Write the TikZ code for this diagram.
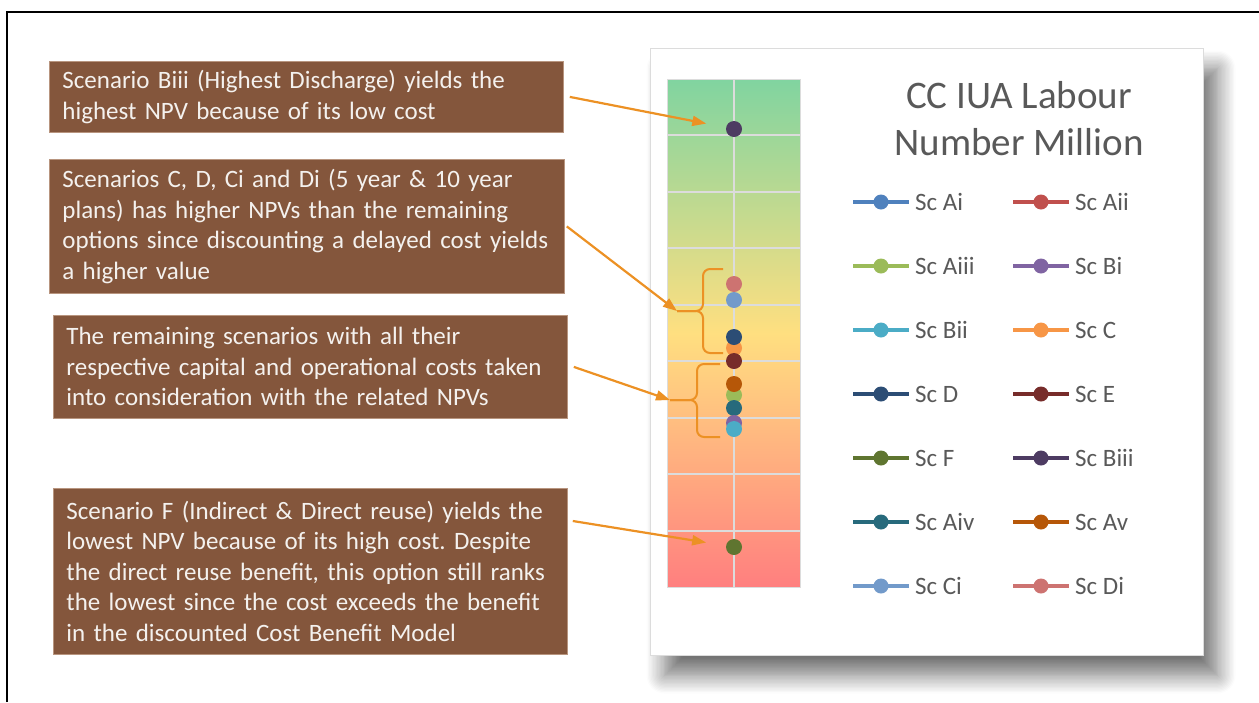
\documentclass[tikz,border=0pt]{standalone}
\usepackage{fontspec}
\setmainfont{Carlito}
\usepackage{tikz}
\usetikzlibrary{arrows.meta,positioning,calc,shadows.blur}
\frenchspacing
\definecolor{notebrown}{HTML}{84563C}
\definecolor{noteedge}{HTML}{B8957F}
\definecolor{notetext}{HTML}{F4F1EE}
\definecolor{callorange}{HTML}{EC9124}
\definecolor{titlegray}{HTML}{595959}
\definecolor{gridgray}{HTML}{DCDCDC}
\definecolor{plotgreen}{HTML}{80D4A0}
\definecolor{plotyellow}{HTML}{FFDF80}
\definecolor{plotred}{HTML}{FF7F7F}
\definecolor{scAi}{HTML}{4F81BD}
\definecolor{scAii}{HTML}{C0504D}
\definecolor{scAiii}{HTML}{9BBB59}
\definecolor{scBi}{HTML}{8064A2}
\definecolor{scBii}{HTML}{4BACC6}
\definecolor{scC}{HTML}{F79646}
\definecolor{scD}{HTML}{2C4D75}
\definecolor{scE}{HTML}{772C2A}
\definecolor{scF}{HTML}{5F7530}
\definecolor{scBiii}{HTML}{4D3B62}
\definecolor{scAiv}{HTML}{276A7C}
\definecolor{scAv}{HTML}{B65708}
\definecolor{scCi}{HTML}{729ACA}
\definecolor{scDi}{HTML}{CD7371}
\tikzset{
  note/.style={rectangle,anchor=north west,fill=notebrown,draw=noteedge,line width=0.8pt,
    text=notetext,font=\fontsize{25}{30.5}\selectfont,align=left,
    inner xsep=13pt,inner ysep=0pt,minimum width=#1,text width=#1-26pt},
  dot/.style={circle,fill=#1,minimum size=16pt,inner sep=0pt},
  callout/.style={-{Triangle[length=14pt,width=10pt]},line width=2.2pt,draw=callorange},
  brace/.style={line width=2pt,draw=callorange,rounded corners=7pt},
  legtext/.style={anchor=west,inner sep=0pt,text=titlegray,font=\fontsize{25}{30}\selectfont},
}
\begin{document}
\begin{tikzpicture}[x=1pt,y=-1pt,
  card/.style={rectangle,anchor=north west,draw=gridgray,fill=white,line width=1pt,
    minimum width=553pt,minimum height=607pt,
    blur shadow={shadow xshift=14pt,shadow yshift=-20pt,shadow blur radius=18pt,
      shadow blur steps=14,shadow opacity=55}},
  titletext/.style={align=center,text=titlegray,font=\fontsize{39}{47}\selectfont},
]
  \useasboundingbox (0,0) rectangle (1259,702);
  \draw[line width=2pt] (7,702) -- (7,12) -- (1259,12);

  \node[card] (card) at (650,48) {};
  \shade[top color=plotgreen,bottom color=plotred,middle color=plotyellow]
    (667,79) rectangle (800,587);
  \foreach \gy in {1,...,8}
    \draw[gridgray,line width=2pt] (667,79+56.44*\gy) -- (800,79+56.44*\gy);
  \draw[gridgray,line width=2pt] (734,79) -- (734,587);
  \draw[gridgray,line width=1pt] (667,79) rectangle (800,587);

  \node[titletext] (title) at (1019,119) {CC IUA Labour\\Number Million};

  \foreach \nm/\yy in {Biii/129,Di/284,Ci/300,C/348,D/337,E/361,Aiii/395,Av/384,
      Aiv/408,Bi/423,Bii/429,F/547}
    \node[dot=sc\nm] (pt\nm) at (734,\yy) {};

  \foreach \nm [count=\i from 0] in {Ai,Aii,Aiii,Bi,Bii,C,D,E,F,Biii,Aiv,Av,Ci,Di} {
    \pgfmathtruncatemacro\col{mod(\i,2)}
    \pgfmathtruncatemacro\row{div(\i,2)}
    \coordinate (lg\nm) at (881+160*\col,202+64*\row);
    \draw[line width=3.5pt,draw=sc\nm] ([xshift=-28pt]lg\nm) -- ([xshift=28pt]lg\nm);
    \node[dot=sc\nm,minimum size=15pt] (lgdot\nm) at (lg\nm) {};
    \node[legtext] (lglabel\nm) at ([xshift=34pt]lg\nm) {Sc \nm};
  }

  \node[note=514pt,minimum height=71pt] (biiinote) at (49,61)
    {Scenario Biii (Highest Discharge) yields the\\highest NPV because of its low cost};
  \node[note=515pt,minimum height=134pt] (cdnote) at (49,159)
    {Scenarios C, D, Ci and Di (5 year \& 10 year\\plans) has higher NPVs than the remaining\\
     options since discounting a delayed cost yields\\a higher value};
  \node[note=514pt,minimum height=103pt] (restnote) at (53,315)
    {The remaining scenarios with all their\\respective capital and operational costs taken\\
     into consideration with the related NPVs};
  \node[note=514pt,minimum height=166pt] (fnote) at (53,488)
    {Scenario F (Indirect \& Direct reuse) yields the\\lowest NPV because of its high cost. Despite\\
     the direct reuse benefit, this option still ranks\\the lowest since the cost exceeds the benefit\\
     in the discounted Cost Benefit Model};

  \coordinate (uppertip) at (677,311);
  \coordinate (lowertip) at (670,400);
  \draw[brace] (723,269) -- (703,269) -- (703,311) -- (uppertip);
  \draw[brace] (uppertip) -- (703,311) -- (703,353) -- (723,353);
  \draw[brace] (720,364) -- (697,364) -- (697,400) -- (lowertip);
  \draw[brace] (lowertip) -- (697,400) -- (697,437) -- (720,437);

  \coordinate (fstart) at ($(fnote.north east)+(5,33)$);
  \draw[callout,shorten >=20pt] ([xshift=6pt]biiinote.east) -- (ptBiii);
  \draw[callout] ([xshift=2pt]cdnote.east) -- (uppertip);
  \draw[callout] ([xshift=6pt]restnote.east) -- (lowertip);
  \draw[callout,shorten >=20pt] (fstart) -- (ptF);
\end{tikzpicture}
\end{document}
